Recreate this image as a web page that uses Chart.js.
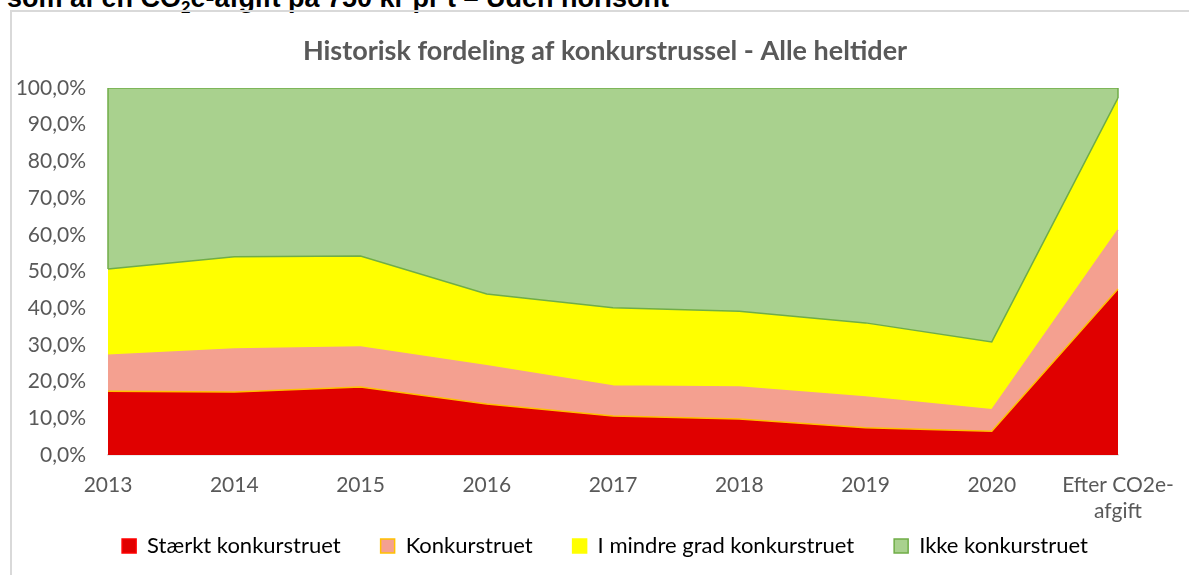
<!DOCTYPE html>
<html>
<head>
<meta charset="utf-8">
<script src="https://cdn.jsdelivr.net/npm/chart.js@4"></script>
<style>
  body { margin: 0; background: #fff; overflow: hidden; }
  #head {
    position: absolute; left: 7px; top: -17px; line-height: 27px;
    font: bold 27px "Liberation Sans", Arial, sans-serif; color: #000;
    white-space: nowrap;
  }
  #box {
    position: absolute; left: 10px; top: 10px; width: 1200px; height: 600px;
    border: 2px solid #d9d9d9;
  }
  #wrap { position: absolute; left: 0; top: 0; width: 1189px; height: 575px; }
</style>
</head>
<body>
<div id="head">som af en CO<sub style="font-size:17px;line-height:0">2</sub>e-afgift på 750 kr pr t – Uden horisont</div>
<div id="box"></div>
<div id="wrap"><canvas id="chart1"></canvas></div>
<script>
const categories = ['2013', '2014', '2015', '2016', '2017', '2018', '2019', '2020', ['Efter CO2e-', 'afgift']];
const seriesNames = ['Stærkt konkurstruet', 'Konkurstruet', 'I mindre grad konkurstruet', 'Ikke konkurstruet'];
const staerkt = [17.4, 17.2, 18.5, 13.9, 10.6, 9.8, 7.4, 6.5, 45.2];
const konkurs = [9.8, 11.7, 10.9, 10.4, 8.2, 8.7, 8.4, 5.8, 16.1];
const mindre = [23.5, 25.1, 24.8, 19.6, 21.3, 20.7, 20.2, 18.5, 36.0];
const ikke = [49.3, 46.0, 45.8, 56.1, 59.9, 60.8, 64.0, 69.2, 2.7];
const yTicks = [0, 10, 20, 30, 40, 50, 60, 70, 80, 90, 100];

const fills = ['#e00000', '#f4a090', '#ffff00', '#a9d18e'];
const lines = ['#ffc000', '#f4a090', '#70ad47', '#70ad47'];
const legendStroke = ['#ff0000', '#ffc000', '#ffff00', '#70ad47'];
const values = [staerkt, konkurs, mindre, ikke];

const FONT = 'Lato, "Open Sans", sans-serif';

// title and legend sit centred on the whole box, x labels need room for two lines
const fixLayout = {
  id: 'fixLayout',
  afterLayout: function(chart) {
    chart.scales.x.bottom = chart.scales.x.top + 85;
    [chart.titleBlock, chart.legend].forEach(b => {
      if (!b) return;
      b.left += 41;
      b.right += 41;
    });
  }
};

// Excel draws the outline of the top area on its side edges too
const sideEdges = {
  id: 'sideEdges',
  afterDatasetsDraw: function(chart) {
    const x = chart.scales.x, y = chart.scales.y, c = chart.ctx;
    const last = categories.length - 1;
    c.save();
    c.strokeStyle = lines[3];
    c.lineWidth = 1.5;
    [0, last].forEach(i => {
      const below = staerkt[i] + konkurs[i] + mindre[i];
      const px = x.getPixelForValue(i);
      c.beginPath();
      c.moveTo(px, y.getPixelForValue(below));
      c.lineTo(px, y.getPixelForValue(below + ikke[i]));
      c.stroke();
    });
    c.restore();
  }
};

document.addEventListener("DOMContentLoaded", function() {
  const ctx1 = document.getElementById('chart1').getContext('2d');
  const chart1 = new Chart(ctx1, {
    type: 'line',
    data: {
      labels: categories,
      datasets: values.map((v, i) => ({
        label: seriesNames[i],
        data: v,
        backgroundColor: fills[i],
        borderColor: lines[i],
        borderWidth: 1.5,
        pointRadius: 0,
        tension: 0,
        fill: i === 0 ? 'origin' : '-1'
      }))
    },
    plugins: [fixLayout, sideEdges],
    options: {
      responsive: true,
      maintainAspectRatio: false,
      animation: false,
      layout: { padding: { top: 0, left: 10, right: 71, bottom: 8 } },
      plugins: {
        title: {
          display: true,
          text: 'Historisk fordeling af konkurstrussel - Alle heltider',
          color: '#595959',
          font: { family: FONT, size: 27, weight: 'bold' },
          padding: { top: 35, bottom: 20.6 }
        },
        legend: {
          position: 'bottom',
          labels: {
            color: '#595959',
            font: { family: FONT, size: 22 },
            boxWidth: 14,
            boxHeight: 14,
            padding: 40,
            generateLabels: function(chart) {
              return seriesNames.map((name, i) => ({
                text: name,
                fillStyle: fills[i],
                strokeStyle: legendStroke[i],
                lineWidth: 1.5,
                datasetIndex: i,
                hidden: false
              }));
            }
          }
        },
        tooltip: { enabled: false }
      },
      scales: {
        x: {
          grid: { display: false },
          border: { color: '#d9d9d9', width: 1.5 },
          ticks: {
            color: '#595959',
            font: { family: FONT, size: 21 },
            maxRotation: 0,
            autoSkip: false,
            padding: 10
          },
          afterFit: function(scale) {
            const lg = scale.chart.legend && scale.chart.legend.height ? scale.chart.legend.height : 60;
            scale.height = Math.max(20, 575 - 8 - 455 - lg);
          }
        },
        y: {
          stacked: true,
          min: 0,
          max: 100,
          grid: { display: false },
          border: { display: false },
          afterBuildTicks: function(scale) {
            scale.ticks = yTicks.map(v => ({ value: v }));
          },
          ticks: {
            color: '#595959',
            font: { family: FONT, size: 21 },
            padding: 14,
            callback: v => v.toFixed(1).replace('.', ',') + '%'
          },
          afterFit: function(scale) { scale.width = 98; }
        }
      }
    }
  });
});
</script>
</body>
</html>
